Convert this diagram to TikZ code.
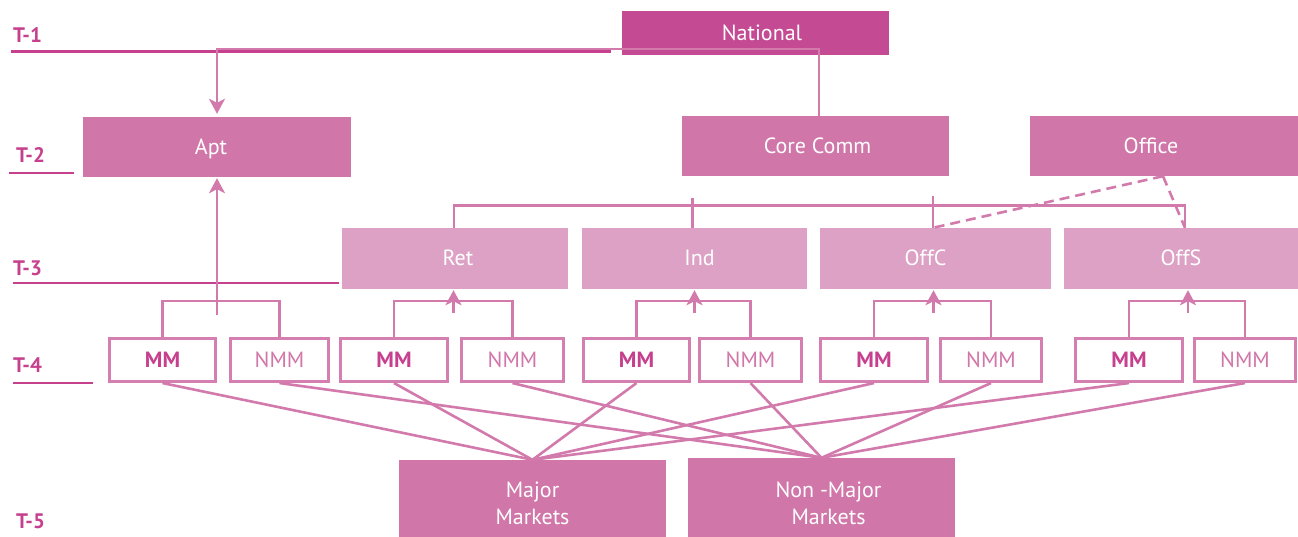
\documentclass[tikz,border=0pt]{standalone}
\usepackage{fontspec}
\setmainfont{PT Sans}
\usetikzlibrary{arrows.meta,calc}
\definecolor{natc}{RGB}{196,74,148}
\definecolor{boxc}{RGB}{209,118,168}
\definecolor{t3c}{RGB}{221,161,197}
\definecolor{linec}{RGB}{211,122,172}
\definecolor{darkc}{RGB}{198,64,142}
\definecolor{outc}{RGB}{213,126,176}
\begin{document}
\begin{tikzpicture}[x=1pt,y=-1pt,
  lvl/.style={font=\fontsize{21}{25}\selectfont\bfseries, text=darkc, anchor=west, inner sep=0},
  lvlline/.style={draw=darkc, line width=2.6pt},
  boxbase/.style={inner sep=0, text=white, font=\fontsize{22}{27}\selectfont, align=center},
  boxtext/.style={boxbase, text height=19pt, text depth=4pt},
  natbox/.style={boxtext, fill=natc},
  bigbox/.style={boxtext, fill=boxc},
  mlbox/.style={boxbase, fill=boxc},
  tthreebox/.style={boxtext, fill=t3c, minimum height=61pt},
  tfourbox/.style={draw=outc, line width=2.6pt, fill=white, inner sep=0, minimum height=43.5pt, text height=19pt, text depth=4pt},
  mmbox/.style={tfourbox, text=darkc, font=\fontsize{22}{27}\selectfont\bfseries},
  nmmbox/.style={tfourbox, text=boxc, font=\fontsize{22}{27}\selectfont},
  pre/.style={execute at begin node={\hspace*{#1}}},
  post/.style={execute at end node={\hspace*{#1}}},
  conn/.style={draw=linec, line width=2.6pt},
  arr/.style={-{Stealth[length=15pt,width=16pt,inset=4pt]}},
  dashconn/.style={conn, dash pattern=on 10pt off 6pt}
]
\useasboundingbox (0,0) rectangle (1298,537);

% level labels and lines
\node[lvl] (L1) at (13,35) {T-1};
\node[lvl] (L2) at (16,155) {T-2};
\node[lvl] (L3) at (13,268) {T-3};
\node[lvl] (L4) at (13,365) {T-4};
\node[lvl] (L5) at (16,521) {T-5};
\draw[lvlline] (11,51.5) -- (611,51.5);
\draw[lvlline] (9,173) -- (74,173);
\draw[lvlline] (13,283) -- (339,283);
\draw[lvlline] (13,383) -- (93,383);

% T-1 and T-2
\node[natbox, pre=13pt, minimum width=267pt, minimum height=44pt] (National) at (755.5,33) {National};
\node[bigbox, post=12pt, minimum width=268pt, minimum height=60pt] (Apt) at (217,147) {Apt};
\node[bigbox, pre=4pt, minimum width=267pt, minimum height=60pt] (CoreComm) at (815.5,146) {Core Comm};
\node[bigbox, post=26pt, minimum width=268pt, minimum height=60pt] (Office) at (1164,146) {Office};

% T-3
\node[tthreebox, pre=6pt, minimum width=226pt] (Ret) at (455,258.5) {Ret};
\node[tthreebox, pre=10pt, minimum width=225pt] (Ind) at (694.5,258.5) {Ind};
\node[tthreebox, post=20pt, minimum width=231pt] (OffC) at (935.5,258.5) {OffC};
\node[tthreebox, minimum width=234pt] (OffS) at (1181,258.5) {OffS};

% T-4
\node[mmbox, minimum width=106.5pt] (MM1) at (162.5,360) {MM};
\node[nmmbox, minimum width=98.5pt] (NMM1) at (279.5,360) {NMM};
\node[mmbox, minimum width=107.5pt] (MM2) at (394,360) {MM};
\node[nmmbox, minimum width=102.5pt] (NMM2) at (512.5,360) {NMM};
\node[mmbox, minimum width=106.5pt] (MM3) at (636.5,360) {MM};
\node[nmmbox, minimum width=102.5pt] (NMM3) at (750.5,360) {NMM};
\node[mmbox, minimum width=107.5pt] (MM4) at (874,360) {MM};
\node[nmmbox, minimum width=101.5pt] (NMM4) at (991,360) {NMM};
\node[mmbox, minimum width=107.5pt] (MM5) at (1129,360) {MM};
\node[nmmbox, minimum width=101.5pt] (NMM5) at (1245,360) {NMM};

% T-5
\node[mlbox, minimum width=267pt, minimum height=77pt, text height=51pt, text depth=0pt] (Major) at (532.5,498.5) {Major\\Markets};
\node[mlbox, minimum width=267pt, minimum height=79pt, text height=53pt, text depth=0pt] (NonMajor) at (821.5,497.5) {\hspace*{14pt}Non -Major\\\hspace*{14pt}Markets};

% National to T-2
\coordinate (natj) at (819,49);
\draw[conn,arr] (CoreComm.north -| natj) -- (natj) -- (natj -| Apt.north) -- ($(Apt.north)+(0,-3)$);

% Core Comm to T-3
\draw[conn] ($(Ret.north)+(-1,0)$) -- ++(0,-22) -- ($(OffS.north)+(4,-22)$) -- ($(OffS.north)+(4,0)$);
\draw[conn] ($(Ind.north)+(-2,0)$) -- ++(0,-30);
\draw[conn] ($(OffC.north)+(-2.5,0)$) -- ++(0,-32);

% Office dashed
\coordinate (offj) at ($(Office.south)+(-1,0)$);
\draw[dashconn] (offj) -- ($(OffC.north)+(-2.5,0)$);
\draw[dashconn] (offj) -- ($(OffS.north)+(4,0)$);

% T-4 brackets and arrows up
\draw[conn] (MM1.north) -- ++(0,-36) -| (NMM1.north);
\draw[conn] (MM2.north) -- ++(0,-36) -| (NMM2.north);
\draw[conn] (MM3.north) -- ++(0,-36) -| (NMM3.north);
\draw[conn] (MM4.north) -- ++(0,-36) -| (NMM4.north);
\draw[conn] (MM5.north) -- ++(0,-36) -| (NMM5.north);
\draw[conn,arr] ($(Apt.south)+(0,138)$) -- ($(Apt.south)+(0,1)$);
\draw[conn,arr] ($(Ret.south)+(-1.5,24)$) -- ($(Ret.south)+(-1.5,1)$);
\draw[conn,arr] ($(Ind.south)+(0,24)$) -- ($(Ind.south)+(0,1)$);
\draw[conn,arr] ($(OffC.south)+(-2,24)$) -- ($(OffC.south)+(-2,1)$);
\draw[conn,arr] ($(OffS.south)+(7,24)$) -- ($(OffS.south)+(7,1)$);

% T-4 to T-5
\foreach \i in {1,...,5}{
  \draw[conn] (MM\i.south) -- (Major.north);
  \draw[conn] (NMM\i.south) -- (NonMajor.north);
}
\end{tikzpicture}
\end{document}
